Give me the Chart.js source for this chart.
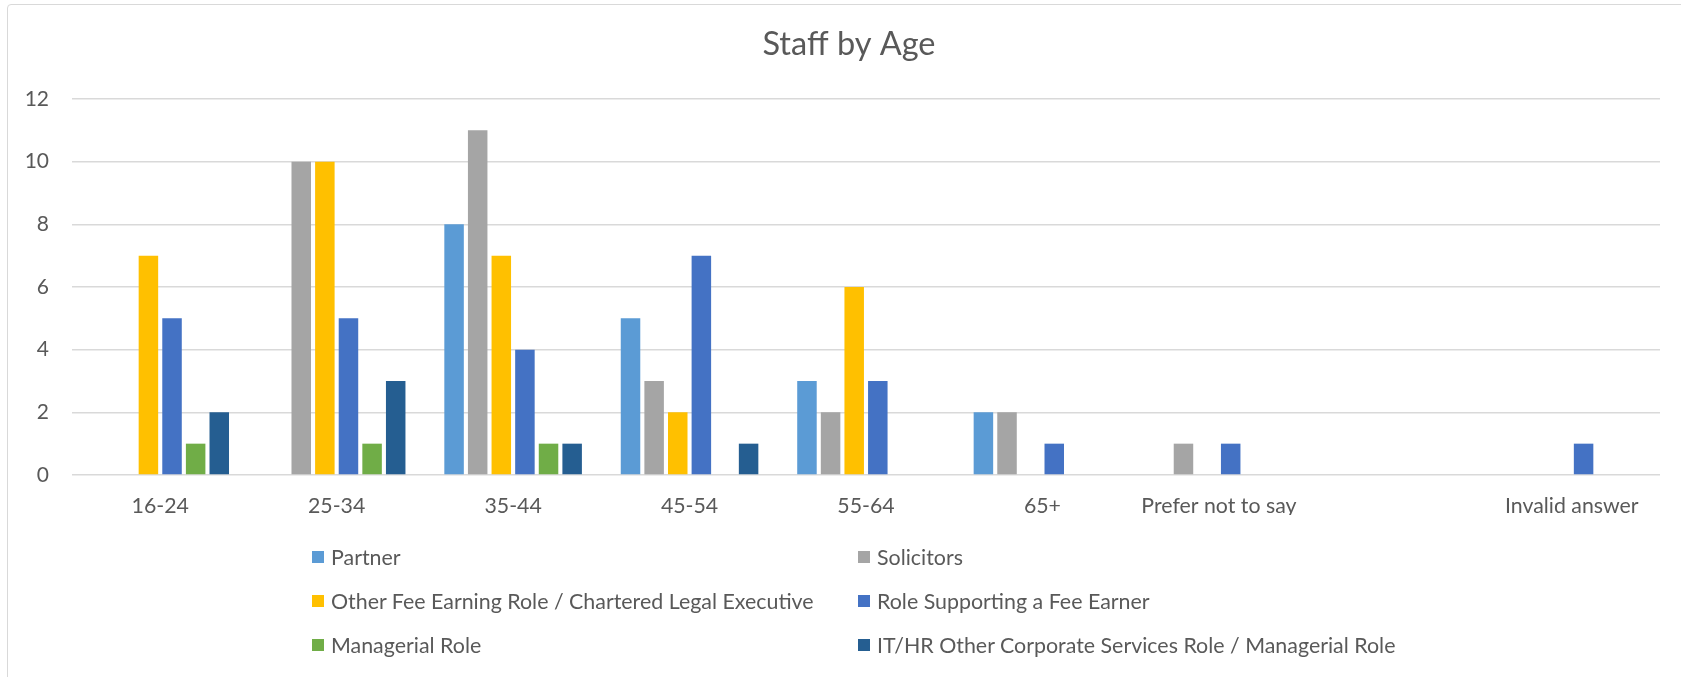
<!DOCTYPE html>
<html>
<head>
<meta charset="utf-8">
<script src="https://cdn.jsdelivr.net/npm/chart.js@4"></script>
<style>
  html, body { margin: 0; padding: 0; background: #fff; overflow: hidden; }
  #wrap { position: relative; width: 1681px; height: 677px; overflow: hidden; }
  #frame { position: absolute; left: 7px; top: 4px; width: 1700px; height: 700px; border: 1px solid #d9d9d9; border-radius: 4px; box-sizing: border-box; }
  canvas { position: absolute; left: 0; top: 0; }
  .leg { position: absolute; font-family: Lato, "Open Sans", sans-serif; font-size: 21.4px; color: #595959; white-space: nowrap; display: flex; align-items: center; height: 30px; }
  .leg i { display: inline-block; width: 12px; height: 12px; margin-right: 7px; }
</style>
</head>
<body>
<div id="wrap">
  <div id="frame"></div>
  <canvas id="c" width="1698" height="677"></canvas>
  <div id="legend"></div>
</div>
<script>
const categories = ["16-24", "25-34", "35-44", "45-54", "55-64", "65+", "Prefer not to say", "", "Invalid answer"];
const seriesNames = [
  "Partner",
  "Solicitors",
  "Other Fee Earning Role / Chartered Legal Executive",
  "Role Supporting a Fee Earner",
  "Managerial Role",
  "IT/HR Other Corporate Services Role / Managerial Role"
];
const partner       = [0, 0, 8, 5, 3, 2, 0, null, 0];
const solicitors    = [0, 10, 11, 3, 2, 2, 1, null, 0];
const otherFee      = [7, 10, 7, 2, 6, 0, 0, null, 0];
const roleSupport   = [5, 5, 4, 7, 3, 1, 1, null, 1];
const managerial    = [1, 1, 1, 0, 0, 0, 0, null, 0];
const itHr          = [2, 3, 1, 1, 0, 0, 0, null, 0];
const yTicks = [0, 2, 4, 6, 8, 10, 12];
const colors = ["#5B9BD5", "#A5A5A5", "#FFC000", "#4472C4", "#70AD47", "#255E91"];

const seriesValues = [partner, solicitors, otherFee, roleSupport, managerial, itHr];
const FONT = 'Lato, "Open Sans", sans-serif';
const TXT = '#595959';

const chart = new Chart(document.getElementById('c'), {
  type: 'bar',
  data: {
    labels: categories,
    datasets: seriesNames.map((n, i) => ({
      label: n,
      data: seriesValues[i],
      backgroundColor: colors[i],
      borderWidth: 0,
      categoryPercentage: 0.803,
      barPercentage: 0.826
    }))
  },
  options: {
    responsive: false,
    animation: false,
    layout: { padding: { left: 0, right: 0, top: 0, bottom: 162 } },
    plugins: {
      legend: { display: false },
      tooltip: { enabled: false },
      title: {
        display: true,
        text: 'Staff by Age',
        color: TXT,
        font: { family: FONT, size: 32.5, weight: 'normal', lineHeight: 1.2 },
        padding: { top: 25, bottom: 35 }
      }
    },
    scales: {
      x: {
        grid: { display: false, drawTicks: false },
        border: { display: false },
        ticks: { color: TXT, font: { family: FONT, size: 21.3 }, padding: 18, maxRotation: 0, autoSkip: false },
        afterFit(scale) { scale.height = 40; }
      },
      y: {
        min: 0, max: 12,
        afterBuildTicks(scale) { scale.ticks = yTicks.map(v => ({ value: v })); },
        grid: { color: '#d9d9d9', lineWidth: 1.5, drawTicks: false },
        border: { display: false },
        ticks: { color: TXT, font: { family: FONT, size: 21 }, padding: 23 },
        afterFit(scale) { scale.width = 72; }
      },
      yR: {
        type: 'linear',
        position: 'right',
        min: 0, max: 12,
        grid: { display: false, drawTicks: false },
        border: { display: false },
        ticks: { display: false },
        afterFit(scale) { scale.width = 38; }
      }
    }
  }
});

// HTML legend built from the chart datasets
const legend = document.getElementById('legend');
const colX = [312, 858];
const rowY = [557, 601, 645];
chart.data.datasets.forEach((ds, i) => {
  const d = document.createElement('div');
  d.className = 'leg';
  d.style.left = colX[i % 2] + 'px';
  d.style.top = (rowY[Math.floor(i / 2)] - 15) + 'px';
  const sw = document.createElement('i');
  sw.style.background = ds.backgroundColor;
  d.appendChild(sw);
  d.appendChild(document.createTextNode(ds.label));
  legend.appendChild(d);
});
</script>
</body>
</html>
